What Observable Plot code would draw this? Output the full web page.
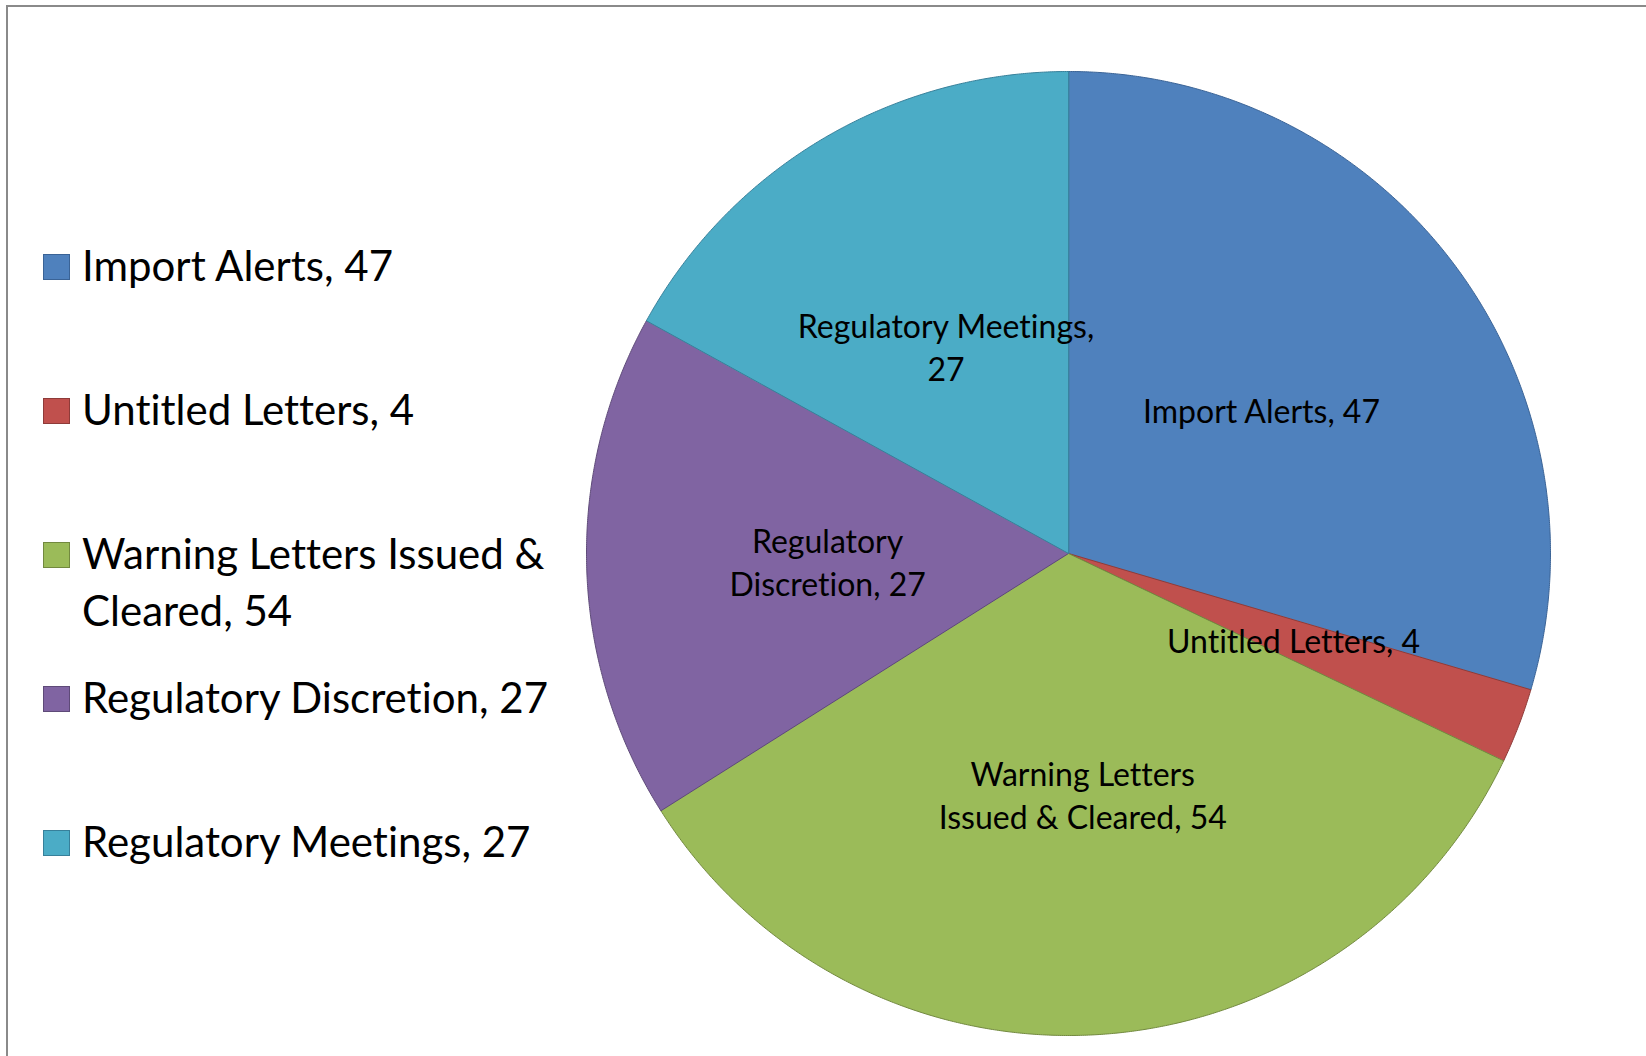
<!DOCTYPE html>
<html>
<head>
<meta charset="utf-8">
<script src="https://cdn.jsdelivr.net/npm/d3@7"></script>
<script src="https://cdn.jsdelivr.net/npm/@observablehq/plot@0.6"></script>
<style>
  html, body { margin: 0; padding: 0; background: #fff; overflow: hidden; }
  #wrap { position: relative; width: 1646px; height: 1056px; overflow: hidden; }
  #frame { position: absolute; left: 6px; top: 5px; width: 1700px; height: 1100px;
           border: 2px solid #8a8a8a; box-sizing: border-box; }
  #chart { position: absolute; left: 0; top: 0; }
  #chart svg text { font-variant-ligatures: none; }
  .leg { position: absolute; left: 0; font-family: Lato, "Open Sans", sans-serif; font-size: 42px;
         line-height: 57px; color: #000; white-space: pre; font-variant-ligatures: none; }
  .sw { position: absolute; width: 25px; height: 24px; border: 1px solid; }
</style>
</head>
<body>
<div id="wrap">
  <div id="frame"></div>
  <div id="chart"></div>
  <div id="legend"></div>
</div>
<script>
// ---- data ----
const names = ["Import Alerts", "Untitled Letters", "Warning Letters Issued & Cleared", "Regulatory Discretion", "Regulatory Meetings"];
const values = [47, 4, 54, 27, 27];
const fills = ["#4F81BD", "#C0504D", "#9BBB59", "#8064A2", "#4BACC6"];
const strokes = ["#3A6396", "#8E3B39", "#72893F", "#5E4A78", "#37809A"];
const pieLabels = ["Import Alerts, 47", "Untitled Letters, 4", "Warning Letters\nIssued & Cleared, 54", "Regulatory\nDiscretion, 27", "Regulatory Meetings,\n27"];
const legendLabels = ["Import Alerts, 47", "Untitled Letters, 4", "Warning Letters Issued &\nCleared, 54", "Regulatory Discretion, 27", "Regulatory Meetings, 27"];

// ---- layout ----
const W = 1646, H = 1056;
const cx = 1068, cy = 553, R = 482;

const arcs = d3.pie().sort(null).value(d => d)(values);
const slices = arcs.map((a, i) => {
  const pts = [{x: 0, y: 0}];
  const n = Math.max(4, Math.ceil((a.endAngle - a.startAngle) / (Math.PI / 720)));
  for (let k = 0; k <= n; k++) {
    const t = a.startAngle + (a.endAngle - a.startAngle) * k / n;
    pts.push({x: Math.sin(t), y: Math.cos(t)});
  }
  return pts;
});
const labels = arcs.map((a, i) => {
  const m = (a.startAngle + a.endAngle) / 2;
  return {x: 0.5 * Math.sin(m), y: 0.5 * Math.cos(m), text: pieLabels[i]};
});

const marks = slices.map((pts, i) =>
  Plot.line(pts, {x: "x", y: "y", curve: "linear-closed", fill: fills[i], stroke: strokes[i], strokeWidth: 1})
);
marks.push(Plot.text(labels, {x: "x", y: "y", text: "text", fontSize: 32, lineHeight: 1.35, fill: "#000", textAnchor: "middle"}));

const plot = Plot.plot({
  width: W, height: H,
  margin: 0,
  x: {axis: null, domain: [-1, 1], range: [cx - R, cx + R]},
  y: {axis: null, domain: [-1, 1], range: [cy + R, cy - R]},
  style: {fontFamily: "Lato, 'Open Sans', sans-serif", background: "transparent", overflow: "visible"},
  marks
});
document.getElementById("chart").appendChild(plot);

// ---- legend ----
const legend = document.getElementById("legend");
legendLabels.forEach((lab, i) => {
  const baseline = 279 + 144 * i;
  const sw = document.createElement("div");
  sw.className = "sw";
  sw.style.left = "43px";
  sw.style.top = (baseline - 25) + "px";
  sw.style.background = fills[i];
  sw.style.borderColor = strokes[i];
  legend.appendChild(sw);
  const t = document.createElement("div");
  t.className = "leg";
  t.style.left = "82px";
  t.style.top = (baseline - 42) + "px";
  t.textContent = lab;
  legend.appendChild(t);
});
</script>
</body>
</html>
